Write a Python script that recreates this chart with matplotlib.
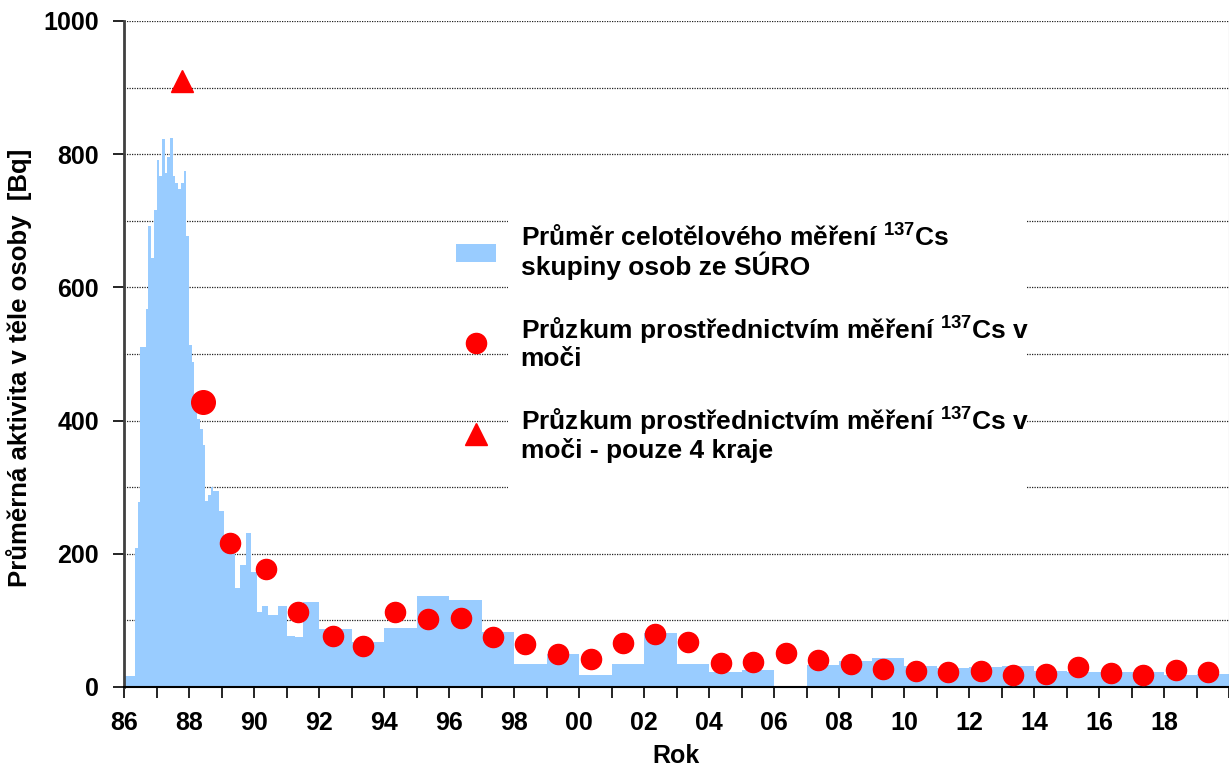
import matplotlib
matplotlib.use("Agg")
import matplotlib.pyplot as plt
from matplotlib.patches import Rectangle
from matplotlib.ticker import MultipleLocator, FuncFormatter

plt.rcParams['font.family'] = ['Liberation Sans', 'DejaVu Sans']
plt.rcParams['font.weight'] = 'bold'
plt.rcParams['mathtext.default'] = 'regular'

# celotelove mereni skupiny osob - hranice intervalu (rok) a prumer [Bq]
hranice = [1986.0, 1986.333, 1986.417, 1986.5, 1986.583, 1986.667, 1986.75, 1986.833, 1986.917,
           1987.0, 1987.083, 1987.167, 1987.25, 1987.333, 1987.417, 1987.5, 1987.583, 1987.667,
           1987.75, 1987.833, 1987.917,
           1988.0, 1988.083, 1988.167, 1988.25, 1988.333, 1988.417, 1988.5, 1988.583, 1988.667,
           1988.75, 1988.833, 1988.917,
           1989.0, 1989.083, 1989.417, 1989.583, 1989.75, 1989.917,
           1990.083, 1990.25, 1990.417, 1990.583, 1990.75,
           1991.0, 1991.25, 1991.5,
           1992, 1993, 1994, 1995, 1996, 1997, 1998, 1999, 2000, 2001, 2002, 2003, 2004,
           2005, 2006, 2007, 2008, 2009, 2010, 2011, 2012, 2013, 2014, 2015, 2016, 2017,
           2018, 2019, 2020]
celotelove = [17, 209, 278, 510, 510, 568, 692, 644, 716,
              791, 767, 823, 772, 796, 825, 768, 757, 747, 757, 775, 677,
              514, 488, 440, 402, 388, 363, 280, 289, 300, 294, 294, 264,
              264, 215, 148, 183, 231, 173,
              112, 121, 108, 108, 121,
              77, 75, 128,
              87, 67, 89, 137, 130, 83, 34, 50, 17.5, 34, 81, 35, 22,
              26, 0, 33, 39.5, 43.5, 31, 28, 30, 31, 24.5, 23, 23, 23,
              17.5, 19.5]

# pruzkum mereni 137Cs v moci
moc_rok = [1988.44, 1989.26, 1990.36, 1991.36, 1992.44, 1993.36, 1994.35, 1995.34, 1996.36,
           1997.36, 1998.35, 1999.35, 2000.36, 2001.36, 2002.35, 2003.35, 2004.36, 2005.35,
           2006.37, 2007.35, 2008.36, 2009.36, 2010.37, 2011.36, 2012.36, 2013.36, 2014.37,
           2015.35, 2016.36, 2017.36, 2018.37, 2019.35]
moc_bq = [428, 216, 177, 112, 77, 62, 113, 102.5, 103.5,
          75.5, 65, 49.5, 42, 66, 79.5, 67, 36, 37,
          51.5, 40, 35, 27.5, 23.5, 23, 24, 18.5, 20,
          29.5, 21, 18, 25.5, 23]

# pouze 4 kraje
kraje_rok = [1987.78]
kraje_bq = [910]

popisky = ['Průměr celotělového měření $\\mathdefault{^{137}}$Cs\nskupiny osob ze SÚRO',
           'Průzkum prostřednictvím měření $\\mathdefault{^{137}}$Cs v\nmoči',
           'Průzkum prostřednictvím měření $\\mathdefault{^{137}}$Cs v\nmoči - pouze 4 kraje']

modra = '#99CCFF'
cervena = '#FF0000'


def popisek_roku(v, pos):
    # posledni rok (2020) uz popisek nema
    if v > 2019:
        return ''
    return f"{int(round(v)) % 100:02d}"


fig = plt.figure(figsize=(12.29, 7.69), dpi=100)
ax = fig.add_axes([124 / 1229, 82 / 769, 1105 / 1229, 666 / 769])

h1 = ax.stairs(celotelove, hranice, fill=True, color=modra, lw=0, zorder=1)
# prvni bod je v grafu o neco vetsi
ax.plot(moc_rok[:1], moc_bq[:1], 'o', color=cervena, ms=17, zorder=3)
h2, = ax.plot(moc_rok[1:], moc_bq[1:], 'o', color=cervena, ms=14.5, zorder=3)
h3, = ax.plot(kraje_rok, kraje_bq, '^', color=cervena, ms=16.5, zorder=3)

ax.set_xlim(1986, 2020)
ax.set_ylim(0, 1000)

# mrizka
ax.set_axisbelow(True)
ax.yaxis.set_major_locator(MultipleLocator(200))
ax.yaxis.set_minor_locator(MultipleLocator(100))
ax.yaxis.grid(True, which='both', linestyle=(0, (1, 1)), color='#222222', lw=0.9)

ax.xaxis.set_major_locator(MultipleLocator(2))
ax.xaxis.set_minor_locator(MultipleLocator(1))
ax.xaxis.set_major_formatter(FuncFormatter(popisek_roku))

ax.tick_params(axis='both', which='major', labelsize=18, length=8, width=1.2, direction='out')
ax.tick_params(axis='x', which='major', pad=9)
ax.tick_params(axis='y', which='major', pad=10)
ax.tick_params(axis='x', which='minor', length=8, width=1.2)
ax.tick_params(axis='y', which='minor', length=0)

ax.spines['top'].set_visible(False)
ax.spines['right'].set_color('#999999')
ax.spines['left'].set_color('#404040')
ax.spines['left'].set_linewidth(2)
ax.spines['bottom'].set_linewidth(1.5)

ax.set_ylabel('Průměrná aktivita v těle osoby  [Bq]', fontsize=18.5, fontweight='bold')
ax.yaxis.set_label_coords(-0.083, 0.479)
ax.set_xlabel('Rok', fontsize=18, fontweight='bold')
ax.xaxis.set_label_coords(0.5, -0.085)

# bile pozadi legendy
ax.add_patch(Rectangle((0.3475, 0.29), 0.47, 0.422, transform=ax.transAxes,
                       facecolor='white', edgecolor='none', zorder=1.5))

leg = ax.legend([h1, h2, h3], popisky, loc='upper left', bbox_to_anchor=(0.3005, 0.694),
                frameon=False, prop={'size': 19, 'weight': 'bold'}, borderpad=0,
                borderaxespad=0, handlelength=1.5, handleheight=0.7, handletextpad=0.95,
                labelspacing=1.3, numpoints=1)
for t in leg.get_texts():
    t.set_linespacing(1.0)
leg.set_zorder(4)

fig.savefig('out.png', dpi=100)
